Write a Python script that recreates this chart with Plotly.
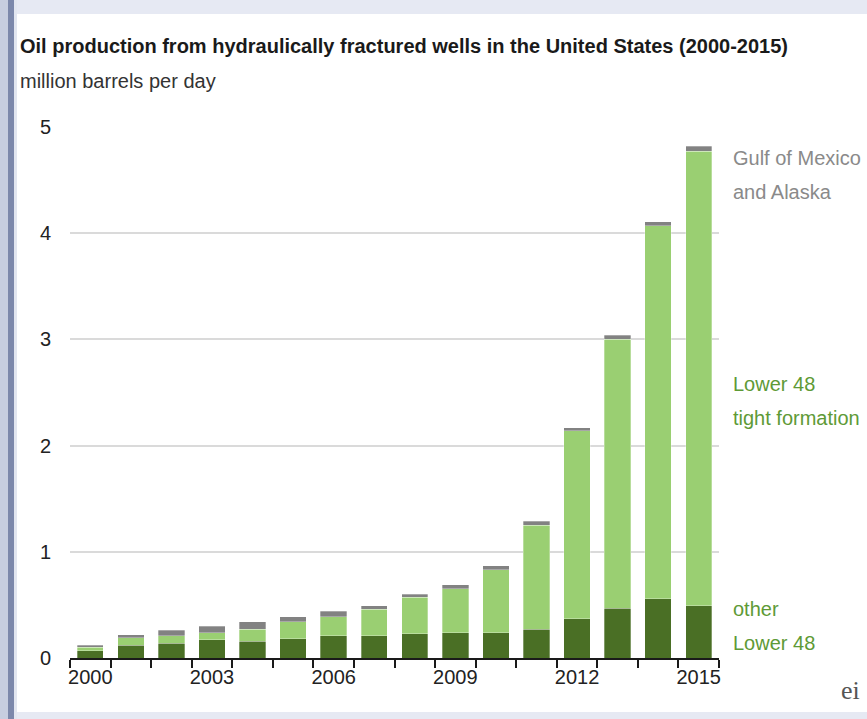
import plotly.graph_objects as go

years = list(range(2000, 2016))
other_lower48 = [0.07, 0.12, 0.14, 0.17, 0.16, 0.18, 0.21, 0.21, 0.23, 0.24, 0.24, 0.27, 0.37, 0.47, 0.56, 0.49]
tight_formation = [0.03, 0.07, 0.07, 0.07, 0.11, 0.16, 0.18, 0.25, 0.34, 0.41, 0.59, 0.98, 1.77, 2.53, 3.51, 4.28]
gulf_alaska = [0.02, 0.03, 0.05, 0.06, 0.07, 0.05, 0.05, 0.03, 0.03, 0.04, 0.04, 0.04, 0.03, 0.04, 0.04, 0.05]
year_labels = [2000, 2003, 2006, 2009, 2012, 2015]
y_ticks = [0, 1, 2, 3, 4, 5]

# category boundaries (between bars), derived from the years
boundaries = [y - 0.5 for y in years] + [years[-1] + 0.5]
x_range = [boundaries[0], boundaries[-1]]

FONT = "Liberation Sans, Arial, sans-serif"
DARK = "#4a6f25"
LIGHT = "#9acf72"
GRAY = "#828282"
LABEL_GREEN = "#5e9a36"

W, H = 867, 719
L, R, T, B = 70, 719, 127, 658

def px(x):
    return (x - L) / (R - L)

def py(y):
    return (B - y) / (B - T)

fig = go.Figure()
line = dict(color="rgba(255,255,255,0.5)", width=0.6)
fig.add_trace(go.Bar(x=years, y=other_lower48, marker=dict(color=DARK, line=line), name="other Lower 48"))
fig.add_trace(go.Bar(x=years, y=tight_formation, marker=dict(color=LIGHT, line=line), name="Lower 48 tight formation"))
fig.add_trace(go.Bar(x=years, y=gulf_alaska, marker=dict(color=GRAY, line=line), name="Gulf of Mexico and Alaska"))

shapes = [
    dict(type="rect", xref="paper", yref="paper", x0=px(0), x1=px(W), y0=py(14), y1=py(0),
         fillcolor="#e6e9f3", line=dict(width=0), layer="below"),
    dict(type="rect", xref="paper", yref="paper", x0=px(0), x1=px(W), y0=py(H), y1=py(712),
         fillcolor="#e6e9f3", line=dict(width=0), layer="below"),
    dict(type="rect", xref="paper", yref="paper", x0=px(0), x1=px(8), y0=py(H), y1=py(0),
         fillcolor="#c7cee0", line=dict(width=0), layer="below"),
    dict(type="rect", xref="paper", yref="paper", x0=px(8), x1=px(14), y0=py(H), y1=py(0),
         fillcolor="#7c88ab", line=dict(width=0), layer="below"),
    dict(type="rect", xref="paper", yref="paper", x0=px(14), x1=px(17), y0=py(H), y1=py(0),
         fillcolor="#e2e6f0", line=dict(width=0), layer="below"),
]

def label(text, x, y, size=20, color="#222222", family=FONT):
    return dict(text=text, xref="paper", yref="paper", x=px(x), y=py(y),
                xanchor="left", yanchor="middle", showarrow=False, align="left",
                font=dict(family=family, size=size, color=color))

annotations = [
    label("<b>Oil production from hydraulically fractured wells in the United States (2000-2015)</b>", 18, 46, 20, "#1a1a1a"),
    label("million barrels per day", 18, 81, 20, "#333333"),
    label("Gulf of Mexico", 731, 158, 20, "#8a8a8a"),
    label("and Alaska", 731, 192, 20, "#8a8a8a"),
    label("Lower 48", 731, 384, 20, LABEL_GREEN),
    label("tight formation", 731, 418, 20, LABEL_GREEN),
    label("other", 731, 609, 20, LABEL_GREEN),
    label("Lower 48", 731, 643, 20, LABEL_GREEN),
    label("ei", 839, 690, 26, "#555555", "Liberation Serif, serif"),
]

fig.update_layout(
    width=W, height=H,
    barmode="stack",
    bargap=0.35,
    showlegend=False,
    paper_bgcolor="white",
    plot_bgcolor="white",
    margin=dict(l=L, r=W - R, t=T, b=H - B, pad=0),
    shapes=shapes,
    annotations=annotations,
    font=dict(family=FONT, size=20, color="#222222"),
    xaxis=dict(
        type="linear",
        range=x_range,
        tickvals=year_labels,
        ticktext=[str(y) for y in year_labels],
        ticks="",
        showgrid=False,
        zeroline=False,
        showline=True, linecolor="#1a1a1a", linewidth=2,
        tickfont=dict(family=FONT, size=20, color="#222222"),
        minor=dict(ticks="outside", tickvals=boundaries, ticklen=8, tickwidth=1.5,
                   tickcolor="#1a1a1a", showgrid=False),
    ),
    yaxis=dict(
        range=[0, 5],
        tickvals=y_ticks,
        ticks="",
        showgrid=True, gridcolor="#dadada", gridwidth=2,
        zeroline=False,
        showline=False,
        ticklabelstandoff=18,
        tickfont=dict(family=FONT, size=20, color="#222222"),
    ),
)

fig.write_html(
    "out.html",
    post_script=(
        "document.body.style.margin='0';document.body.style.padding='0';"
        "document.body.style.overflow='hidden';"
        "document.querySelectorAll('.modebar-container').forEach(function(e){e.style.display='none';});"
    ),
)
